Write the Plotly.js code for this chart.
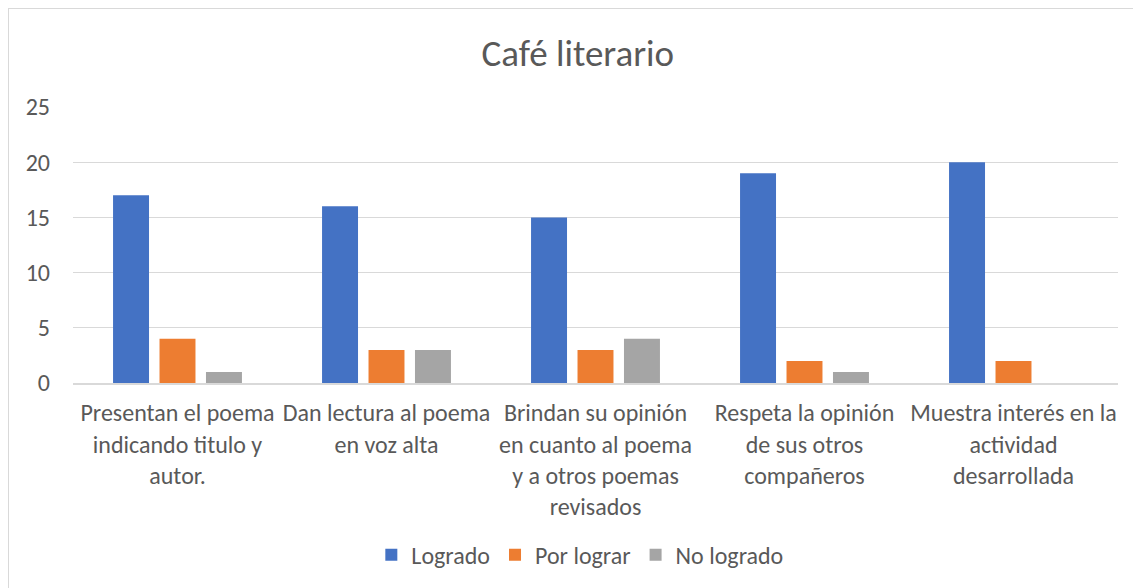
<!DOCTYPE html>
<html>
<head>
<meta charset="utf-8">
<script src="https://cdn.plot.ly/plotly-3.0.1.min.js"></script>
<style>
html,body{margin:0;padding:0;background:#fff;overflow:hidden;}
#frame{position:absolute;left:8px;top:8px;width:1140px;height:600px;border:1.5px solid #d9d9d9;box-sizing:border-box;}
#chart{position:absolute;left:0;top:0;width:1133px;height:588px;}
</style>
</head>
<body>
<div id="frame"></div>
<div id="chart"></div>
<script>
const categories = [
  "Presentan el poema<br>indicando titulo y<br>autor.",
  "Dan lectura al poema<br>en voz alta",
  "Brindan su opinión<br>en cuanto al poema<br>y a otros poemas<br>revisados",
  "Respeta la opinión<br>de sus otros<br>compañeros",
  "Muestra interés en la<br>actividad<br>desarrollada"
];
const logrado = [17, 16, 15, 19, 20];
const porLograr = [4, 3, 3, 2, 2];
const noLogrado = [1, 3, 4, 1, 0];
const yTicks = [0, 5, 10, 15, 20, 25];

const font = "Carlito, Calibri, 'Liberation Sans', 'Noto Sans', sans-serif";
const traces = [
  {type:'bar', name:'Logrado', x:categories, y:logrado, marker:{color:'#4472C4'}},
  {type:'bar', name:'Por lograr', x:categories, y:porLograr, marker:{color:'#ED7D31'}},
  {type:'bar', name:'No logrado', x:categories, y:noLogrado, marker:{color:'#A5A5A5'}}
];
const layout = {
  width:1133, height:588,
  margin:{l:73, r:15, t:107, b:204},
  paper_bgcolor:'rgba(0,0,0,0)', plot_bgcolor:'rgba(0,0,0,0)',
  font:{family:font, color:'#595959', size:24},
  title:{text:'Café literario', font:{size:37, color:'#595959', family:font}, x:0.51, xanchor:'center', y:0.91, yanchor:'middle'},
  barmode:'group', bargap:0.333, bargroupgap:0.226,
  xaxis:{type:'category', showgrid:false, showline:true, linecolor:'#d9d9d9', linewidth:1.5, ticks:'', tickfont:{size:24, color:'#595959'}, tickangle:0, ticklabelstandoff:8, automargin:false},
  yaxis:{range:[0,25], tickvals:yTicks, showgrid:true, gridcolor:'#d9d9d9', gridwidth:1.3, zeroline:false, showline:false, ticks:'', tickfont:{size:24, color:'#595959'}, ticklabelstandoff:22, automargin:false},
  legend:{orientation:'h', x:0.485, xanchor:'center', y:-0.618, yanchor:'middle', font:{size:24, color:'#595959'}, itemwidth:30, traceorder:'normal'},
  showlegend:true
};
Plotly.newPlot('chart', traces, layout, {displayModeBar:false, staticPlot:true});
</script>
</body>
</html>
